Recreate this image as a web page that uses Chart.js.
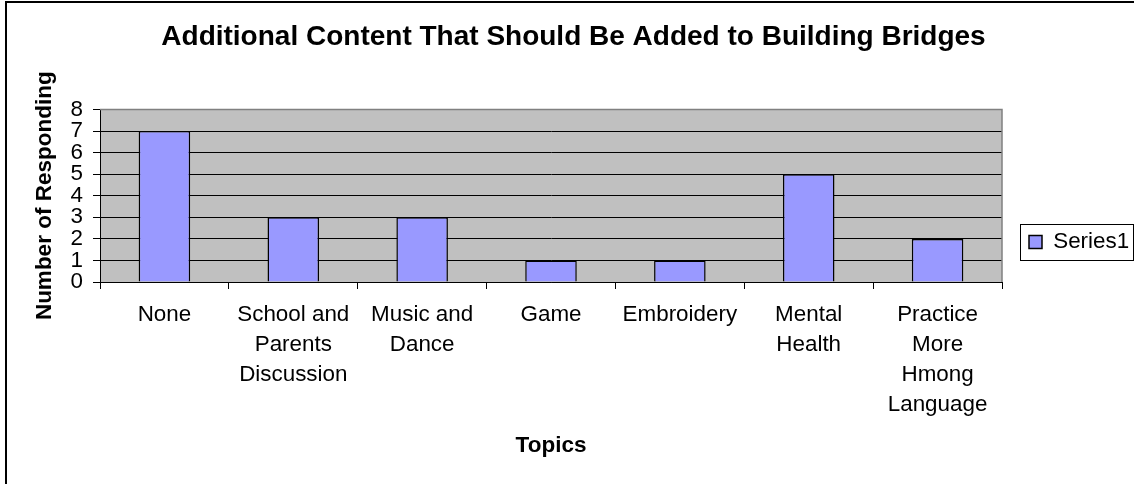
<!DOCTYPE html>
<html>
<head>
<meta charset="utf-8">
<script src="https://cdn.jsdelivr.net/npm/chart.js@4.4.1/dist/chart.umd.min.js"></script>
<style>
  html, body { margin: 0; padding: 0; background: #fff; overflow: hidden; }
  #wrap { position: relative; width: 1134px; height: 484px; overflow: hidden; background: #fff; }
  #frame { position: absolute; left: 5px; top: 1px; width: 1300px; height: 700px; border: 2px solid #000; pointer-events: none; }
  canvas { position: absolute; left: 0; top: 0; }
</style>
</head>
<body>
<div id="wrap">
  <canvas id="c" width="1134" height="484"></canvas>
  <div id="frame"></div>
</div>
<script>
const chartTitle = 'Additional Content That Should Be Added to Building Bridges';
const xTitle = 'Topics';
const yTitle = 'Number of Responding';
const categories = [
  ['None'],
  ['School and', 'Parents', 'Discussion'],
  ['Music and', 'Dance'],
  ['Game'],
  ['Embroidery'],
  ['Mental', 'Health'],
  ['Practice', 'More', 'Hmong', 'Language']
];
const seriesName = 'Series1';
const seriesValues = [7, 3, 3, 1, 1, 5, 2];
const yMin = 0;
const yMax = 8;
const yStep = 1;

const FONT = "'Liberation Sans', Arial, Helvetica, sans-serif";
Chart.defaults.font.family = FONT;
Chart.defaults.color = '#000';

const plotDecor = {
  id: 'plotDecor',
  beforeDraw(chart) {
    const { ctx, chartArea: a } = chart;
    ctx.save();
    ctx.fillStyle = '#C0C0C0';
    ctx.fillRect(a.left, a.top, a.right - a.left, a.bottom - a.top);
    ctx.restore();
  },
  afterDraw(chart) {
    const { ctx, chartArea: a } = chart;
    ctx.save();
    ctx.strokeStyle = '#808080';
    ctx.lineWidth = 1.5;
    ctx.beginPath();
    ctx.moveTo(a.left, a.top);
    ctx.lineTo(a.right, a.top);
    ctx.lineTo(a.right, a.bottom);
    ctx.stroke();
    const lg = chart.legend;
    if (lg && lg.legendHitBoxes && lg.legendHitBoxes.length) {
      const hb = lg.legendHitBoxes[0];
      const cy = hb.top + hb.height / 2;
      const left = hb.left - 9;
      const right = Math.min(hb.left + hb.width + 5, chart.width - 1.5);
      ctx.strokeStyle = '#000';
      ctx.lineWidth = 1;
      ctx.strokeRect(Math.round(left) + 0.5, Math.round(cy - 18) + 0.5, Math.round(right - left), 36);
    }
    ctx.restore();
  }
};

new Chart(document.getElementById('c'), {
  type: 'bar',
  data: {
    labels: categories,
    datasets: [{
      label: seriesName,
      data: seriesValues,
      backgroundColor: '#9999FF',
      borderColor: '#000',
      borderWidth: 1.5,
      categoryPercentage: 1.0,
      barPercentage: 0.4
    }]
  },
  options: {
    responsive: false,
    animation: false,
    layout: { padding: { left: 13, right: 0, top: 0, bottom: 0 } },
    plugins: {
      title: {
        display: true,
        text: chartTitle,
        color: '#000',
        font: { size: 28, weight: 'bold', family: FONT, lineHeight: 1.2 },
        padding: { top: 20.2, bottom: 55.7 }
      },
      legend: {
        display: true,
        position: 'right',
        maxWidth: 132,
        labels: {
          boxWidth: 13,
          boxHeight: 13,
          padding: 27,
          color: '#000',
          font: { size: 22.4, family: FONT }
        }
      },
      tooltip: { enabled: false }
    },
    scales: {
      x: {
        afterFit(scale) { scale.height = 202; },
        grid: {
          display: true,
          drawOnChartArea: false,
          drawTicks: true,
          tickLength: 7,
          tickColor: '#000',
          color: '#000',
          offset: true
        },
        border: { display: true, color: '#000', width: 1 },
        ticks: {
          autoSkip: false,
          maxRotation: 0,
          minRotation: 0,
          padding: 11,
          color: '#000',
          font: { size: 22.4, family: FONT, lineHeight: 1.34 }
        },
        title: {
          display: true,
          text: xTitle,
          color: '#000',
          font: { size: 22.5, weight: 'bold', family: FONT, lineHeight: 1.2 },
          padding: { top: 0, bottom: 24.9 }
        }
      },
      y: {
        min: yMin,
        max: yMax,
        afterFit(scale) { scale.width = 87; },
        grid: {
          display: true,
          drawOnChartArea: true,
          drawTicks: true,
          tickLength: 7,
          tickColor: '#000',
          color: '#000',
          lineWidth: 1
        },
        border: { display: true, color: '#000', width: 1 },
        ticks: {
          stepSize: yStep,
          autoSkip: false,
          padding: 10,
          color: '#000',
          font: { size: 22.4, family: FONT }
        },
        title: {
          display: true,
          text: yTitle,
          color: '#000',
          font: { size: 22.5, weight: 'bold', family: FONT, lineHeight: 1.2 },
          padding: { top: 18.5, bottom: 0 }
        }
      }
    }
  },
  plugins: [plotDecor]
});
</script>
</body>
</html>
